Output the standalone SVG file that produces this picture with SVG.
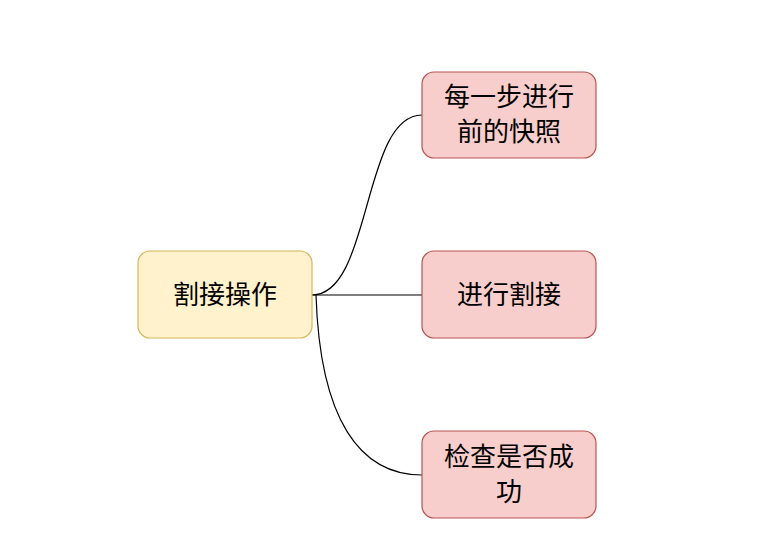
<svg xmlns="http://www.w3.org/2000/svg" width="772" height="558" viewBox="0 0 772 558">
<style>
.t{font-family:"Noto Sans CJK SC","Noto Sans",sans-serif;font-size:26px;fill:#000;text-anchor:middle}
.c{fill:none;stroke:#000;stroke-width:1.2}
.r{fill:#f8cecc;stroke:#b85450;stroke-width:1.2}
</style>
<rect width="772" height="558" fill="#fff"/>
<g id="connectors">
<path class="c" d="M312,295 C372,295 362,115 422,115"/>
<path class="c" d="M312,295 L422,295"/>
<path class="c" d="M316,295 C320,420 360,475 422,475"/>
</g>
<g id="center"><rect x="138" y="251" width="174" height="87" rx="12" fill="#fff2cc" stroke="#d6b656" stroke-width="1.2"/><text class="t" x="225" y="304">割接操作</text></g>
<g id="n1"><rect class="r" x="422" y="72" width="174" height="86" rx="12"/><text class="t" x="509" y="106">每一步进行</text><text class="t" x="509" y="141">前的快照</text></g>
<g id="n2"><rect class="r" x="422" y="251" width="174" height="87" rx="12"/><text class="t" x="509" y="304">进行割接</text></g>
<g id="n3"><rect class="r" x="422" y="431" width="174" height="87" rx="12"/><text class="t" x="509" y="466">检查是否成</text><text class="t" x="509" y="501">功</text></g>
</svg>
